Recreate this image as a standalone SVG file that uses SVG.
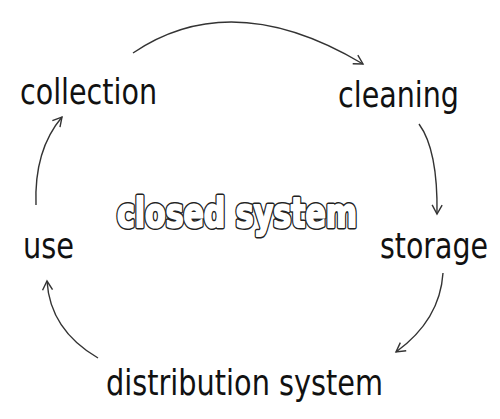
<svg xmlns="http://www.w3.org/2000/svg" width="500" height="419" viewBox="0 0 500 419">
<style>
.lbl{font-family:"DejaVu Sans Condensed","DejaVu Sans",sans-serif;font-size:36px;fill:#111;}
.title{font-family:"DejaVu Sans Condensed","DejaVu Sans",sans-serif;font-weight:bold;font-size:41px;}
.t-out{fill:#222;stroke:#222;stroke-width:5px;stroke-linejoin:round;}
.t-in{fill:#fff;stroke:#fff;stroke-width:2px;stroke-linejoin:round;}
.conn{fill:none;stroke:#333;stroke-width:1.4;marker-end:url(#arr);}
</style>
<defs>
<marker id="arr" markerUnits="userSpaceOnUse" markerWidth="14" markerHeight="14" viewBox="-11 -7 13 14" refX="0" refY="0" orient="auto">
<path d="M-9,-5 L0,0 L-9,5" fill="none" stroke="#333" stroke-width="1.4"/>
</marker>
</defs>
<rect width="500" height="419" fill="#fff"/>
<g id="connectors">
<path class="conn" d="M133,53 Q232,-14 363,64"/>
<path class="conn" d="M419,124 Q438,150 437,214"/>
<path class="conn" d="M443,273 Q440,320 396,352"/>
<path class="conn" d="M98,358 Q50,330 47,281"/>
<path class="conn" d="M36,205 Q34,150 62,117"/>
</g>
<g id="node-collection"><text class="lbl" x="20" y="104" textLength="137" lengthAdjust="spacingAndGlyphs">collection</text></g>
<g id="node-cleaning"><text class="lbl" x="338" y="107" textLength="121" lengthAdjust="spacingAndGlyphs">cleaning</text></g>
<g id="node-storage"><text class="lbl" x="380" y="258" textLength="108" lengthAdjust="spacingAndGlyphs">storage</text></g>
<g id="node-distribution"><text class="lbl" x="106" y="395" textLength="277" lengthAdjust="spacingAndGlyphs">distribution system</text></g>
<g id="node-use"><text class="lbl" x="23" y="258" textLength="51" lengthAdjust="spacingAndGlyphs">use</text></g>
<g id="center-label">
<text class="title t-out" x="117" y="227" textLength="240" lengthAdjust="spacingAndGlyphs">closed system</text>
<text class="title t-in" x="117" y="227" textLength="240" lengthAdjust="spacingAndGlyphs">closed system</text>
</g>
</svg>
